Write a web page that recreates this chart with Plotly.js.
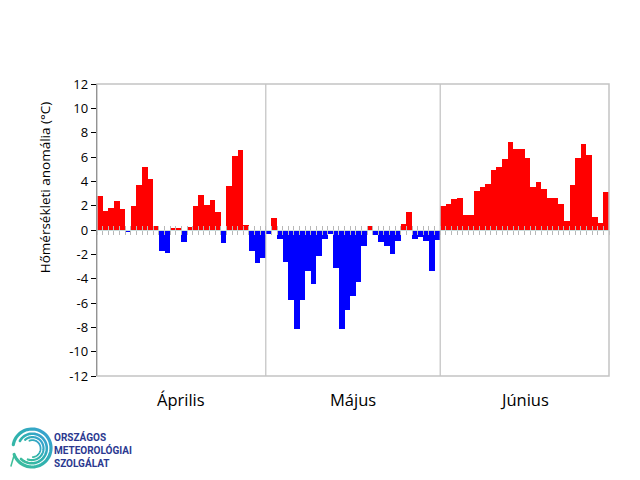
<!DOCTYPE html>
<html>
<head>
<meta charset="utf-8">
<script src="https://cdn.plot.ly/plotly-3.0.1.min.js"></script>
<style>
  html, body { margin:0; padding:0; background:#fff; }
  #chart { width:640px; height:480px; position:relative; }
  #logo { position:absolute; left:8px; top:424px; width:48px; height:48px; }
</style>
</head>
<body>
<div id="chart"></div>
<svg id="logo" viewBox="0 0 48 48"></svg>
<script>
// Daily temperature anomalies (°C), April–June
const months = ['Április', 'Május', 'Június'];
const aprilValues = [2.8, 1.6, 1.8, 2.4, 1.75, -0.2, 1.95, 3.7, 5.2, 4.2, 0.3, -1.7, -1.85, 0.15, 0.2,
  -1.0, 0.25, 2.0, 2.9, 2.05, 2.5, 1.5, -1.05, 3.6, 6.1, 6.6, 0.45, -1.75, -2.75, -2.3];
const mayValues = [-0.35, 0.95, -0.75, -2.65, -5.75, -8.1, -5.75, -3.4, -4.4, -2.1, -0.75, -0.35, -3.1,
  -8.1, -6.6, -5.4, -4.3, -1.35, 0.35, -0.45, -1.0, -1.35, -2.0, -0.9, 0.5, 1.45, -0.7, -0.55, -0.9, -3.35, -0.8];
const juneValues = [1.95, 2.1, 2.55, 2.65, 1.25, 1.25, 3.2, 3.55, 3.8, 4.9, 5.15, 5.8, 7.25, 6.65, 6.65,
  5.95, 3.55, 3.95, 3.35, 2.65, 2.65, 2.1, 0.75, 3.7, 5.95, 7.1, 6.2, 1.05, 0.6, 3.1];
const yTickVals = [-12, -10, -8, -6, -4, -2, 0, 2, 4, 6, 8, 10, 12];
const yTickText = ['-12', '-10', '-8', '-6', '-4', '-2', '0', '2', '4', '6', '8', '10', '12'];
const yTitle = 'Hőmérsékleti anomália (°C)';
const logoLines = ['ORSZÁGOS', 'METEOROLÓGIAI', 'SZOLGÁLAT'];

const monthData = [aprilValues, mayValues, juneValues];
const values = [].concat(aprilValues, mayValues, juneValues);
const xs = values.map((v, i) => i + 1);
const colors = values.map(v => v >= 0 ? '#FF0000' : '#0000FF');
const n = values.length;

const shapes = [];
const annotations = [];
let start = 0;
monthData.forEach((arr, k) => {
  const end = start + arr.length;
  annotations.push({
    x: start + arr.length / 2 + 0.5, xref: 'x', y: -0.082, yref: 'paper',
    text: months[k], showarrow: false, yanchor: 'middle',
    font: { family: 'Open Sans, sans-serif', size: 16.5, color: '#000' }
  });
  if (k < monthData.length - 1) {
    shapes.push({ type: 'line', xref: 'x', yref: 'paper', x0: end + 0.5, x1: end + 0.5, y0: 0, y1: 1,
      line: { color: '#c0c0c0', width: 1.2 }, layer: 'above' });
  }
  start = end;
});
shapes.push({ type: 'rect', xref: 'paper', yref: 'paper', x0: 0, x1: 1, y0: 0, y1: 1,
  line: { color: '#c4c4c4', width: 1.5 }, layer: 'above' });

annotations.push({
  x: -0.101, xref: 'paper', y: 0.644, yref: 'paper', text: yTitle, textangle: -90,
  showarrow: false, xanchor: 'center', yanchor: 'middle',
  font: { family: 'Open Sans, sans-serif', size: 13.5, color: '#000' }
});
annotations.push({
  x: -0.0875, xref: 'paper', y: -0.254, yref: 'paper', xanchor: 'left', yanchor: 'middle', align: 'left',
  text: '<b>' + logoLines.join('<br>') + '</b>', showarrow: false,
  font: { family: 'Roboto, sans-serif', size: 10, color: '#2b3990' }
});

const traces = [
  { type: 'bar', x: xs, y: values, marker: { color: colors, line: { width: 0 } },
    hoverinfo: 'x+y', showlegend: false },
  { type: 'scatter', x: [1], y: [0], xaxis: 'x2', mode: 'none', hoverinfo: 'skip', showlegend: false },
  { type: 'scatter', x: [1], y: [0], xaxis: 'x3', mode: 'none', hoverinfo: 'skip', showlegend: false }
];

const zeroAxis = (ticks) => ({
  overlaying: 'x', anchor: 'free', position: 0.5, range: [0.5, n + 0.5],
  showline: true, linecolor: '#cadcdc', linewidth: 1.2, ticks: ticks, ticklen: 4,
  tickcolor: '#b8b8b8', tickwidth: 1, tickmode: 'linear', tick0: 0.5, dtick: 1,
  showticklabels: false, showgrid: false, zeroline: false, layer: 'above traces'
});

const layout = {
  width: 640, height: 480,
  margin: { l: 97, r: 31, t: 84, b: 104 },
  paper_bgcolor: '#fff', plot_bgcolor: '#fff',
  bargap: 0,
  xaxis: { range: [0.5, n + 0.5], showticklabels: false, ticks: '', showgrid: false,
    zeroline: false, showline: false, fixedrange: true },
  xaxis2: zeroAxis('outside'),
  xaxis3: zeroAxis('inside'),
  yaxis: { range: [-12, 12], tickvals: yTickVals, ticktext: yTickText, ticks: 'outside', ticklen: 5,
    tickcolor: '#000', showline: true, linecolor: '#000', linewidth: 1.2, showgrid: false, zeroline: false,
    tickfont: { family: 'Open Sans, sans-serif', size: 13, color: '#000' } },
  shapes: shapes,
  annotations: annotations
};

Plotly.newPlot('chart', traces, layout, { displayModeBar: false, staticPlot: true });

// decorative swirl logo
(function () {
  const svg = document.getElementById('logo');
  const ns = 'http://www.w3.org/2000/svg';
  const defs = document.createElementNS(ns, 'defs');
  defs.innerHTML = '<linearGradient id="g" x1="0" y1="1" x2="1" y2="0">' +
    '<stop offset="0" stop-color="#3fbf9a"/><stop offset="0.5" stop-color="#2fb0b0"/>' +
    '<stop offset="1" stop-color="#3a9fd8"/></linearGradient>';
  svg.appendChild(defs);
  const cx = 24, cy = 24;
  const rings = [[19, 3.2], [15.5, 2.6], [12.2, 2.2], [9.2, 1.8]];
  rings.forEach(([r, w], idx) => {
    const a0 = (200 + idx * 25) * Math.PI / 180, a1 = (200 + 330 - idx * 20) * Math.PI / 180;
    let d = '';
    for (let t = 0; t <= 60; t++) {
      const a = a0 + (a1 - a0) * t / 60;
      const rr = r - (idx === 0 ? 0 : 1.5) * t / 60;
      const px = cx + rr * Math.cos(a), py = cy - rr * Math.sin(a);
      d += (t === 0 ? 'M' : 'L') + px.toFixed(2) + ' ' + py.toFixed(2);
    }
    const p = document.createElementNS(ns, 'path');
    p.setAttribute('d', d);
    p.setAttribute('fill', 'none');
    p.setAttribute('stroke', 'url(#g)');
    p.setAttribute('stroke-width', w);
    p.setAttribute('stroke-linecap', 'round');
    svg.appendChild(p);
  });
  const tail = document.createElementNS(ns, 'path');
  tail.setAttribute('d', 'M6.3 30.5 L3 42');
  tail.setAttribute('stroke', '#3fbf9a');
  tail.setAttribute('stroke-width', 1.5);
  tail.setAttribute('stroke-linecap', 'round');
  svg.appendChild(tail);
})();
</script>
</body>
</html>
